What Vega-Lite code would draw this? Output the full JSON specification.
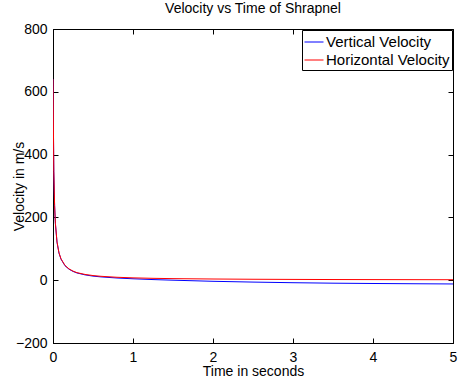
{
  "$schema": "https://vega.github.io/schema/vega-lite/v6.json",
  "width": 400,
  "height": 314,
  "autosize": "none",
  "padding": {"left": 53, "top": 29, "right": 5, "bottom": 36},
  "background": "white",
  "config": {
    "font": "Liberation Sans",
    "view": {"stroke": "black", "strokeWidth": 1},
    "axis": {
      "grid": false,
      "domainColor": "black",
      "tickColor": "black",
      "labelColor": "black",
      "titleColor": "black",
      "labelFontSize": 14,
      "titleFontSize": 14,
      "titleFontWeight": "normal",
      "labelFont": "Liberation Sans",
      "titleFont": "Liberation Sans",
      "tickSize": -5
    }
  },
  "title": {
    "text": "Velocity vs Time of Shrapnel",
    "fontSize": 14,
    "fontWeight": "normal",
    "font": "Liberation Sans",
    "color": "black",
    "offset": 6
  },
  "data": {
    "values": [
      {"t": 0, "v": 640, "series": "Vertical Velocity"},
      {"t": 0.01, "v": 346, "series": "Vertical Velocity"},
      {"t": 0.02, "v": 237, "series": "Vertical Velocity"},
      {"t": 0.03, "v": 180, "series": "Vertical Velocity"},
      {"t": 0.05, "v": 121, "series": "Vertical Velocity"},
      {"t": 0.075, "v": 86, "series": "Vertical Velocity"},
      {"t": 0.1, "v": 67, "series": "Vertical Velocity"},
      {"t": 0.15, "v": 46, "series": "Vertical Velocity"},
      {"t": 0.2, "v": 35, "series": "Vertical Velocity"},
      {"t": 0.25, "v": 28, "series": "Vertical Velocity"},
      {"t": 0.3, "v": 23, "series": "Vertical Velocity"},
      {"t": 0.4, "v": 17, "series": "Vertical Velocity"},
      {"t": 0.5, "v": 13, "series": "Vertical Velocity"},
      {"t": 0.6, "v": 10.5, "series": "Vertical Velocity"},
      {"t": 0.8, "v": 7, "series": "Vertical Velocity"},
      {"t": 1, "v": 4.5, "series": "Vertical Velocity"},
      {"t": 1.25, "v": 2, "series": "Vertical Velocity"},
      {"t": 1.5, "v": 0, "series": "Vertical Velocity"},
      {"t": 2, "v": -3.5, "series": "Vertical Velocity"},
      {"t": 2.5, "v": -6, "series": "Vertical Velocity"},
      {"t": 3, "v": -8, "series": "Vertical Velocity"},
      {"t": 3.5, "v": -9.5, "series": "Vertical Velocity"},
      {"t": 4, "v": -10.5, "series": "Vertical Velocity"},
      {"t": 4.5, "v": -11.3, "series": "Vertical Velocity"},
      {"t": 5, "v": -12, "series": "Vertical Velocity"},
      {"t": 0, "v": 640, "series": "Horizontal Velocity"},
      {"t": 0.01, "v": 347, "series": "Horizontal Velocity"},
      {"t": 0.02, "v": 238, "series": "Horizontal Velocity"},
      {"t": 0.03, "v": 181, "series": "Horizontal Velocity"},
      {"t": 0.05, "v": 122, "series": "Horizontal Velocity"},
      {"t": 0.075, "v": 87, "series": "Horizontal Velocity"},
      {"t": 0.1, "v": 68, "series": "Horizontal Velocity"},
      {"t": 0.15, "v": 47, "series": "Horizontal Velocity"},
      {"t": 0.2, "v": 36, "series": "Horizontal Velocity"},
      {"t": 0.25, "v": 29, "series": "Horizontal Velocity"},
      {"t": 0.3, "v": 24, "series": "Horizontal Velocity"},
      {"t": 0.4, "v": 18.4, "series": "Horizontal Velocity"},
      {"t": 0.5, "v": 14.8, "series": "Horizontal Velocity"},
      {"t": 0.6, "v": 12.4, "series": "Horizontal Velocity"},
      {"t": 0.8, "v": 9.3, "series": "Horizontal Velocity"},
      {"t": 1, "v": 7.5, "series": "Horizontal Velocity"},
      {"t": 1.25, "v": 6, "series": "Horizontal Velocity"},
      {"t": 1.5, "v": 5, "series": "Horizontal Velocity"},
      {"t": 2, "v": 3.8, "series": "Horizontal Velocity"},
      {"t": 2.5, "v": 3, "series": "Horizontal Velocity"},
      {"t": 3, "v": 2.5, "series": "Horizontal Velocity"},
      {"t": 3.5, "v": 2.1, "series": "Horizontal Velocity"},
      {"t": 4, "v": 1.9, "series": "Horizontal Velocity"},
      {"t": 4.5, "v": 1.7, "series": "Horizontal Velocity"},
      {"t": 5, "v": 1.5, "series": "Horizontal Velocity"}
    ]
  },
  "layer": [
    {
      "mark": {"type": "line", "strokeWidth": 1, "clip": true},
      "encoding": {
        "x": {
          "field": "t", "type": "quantitative",
          "scale": {"domain": [0, 5], "nice": false, "zero": false},
          "axis": {"title": "Time in seconds", "values": [0, 1, 2, 3, 4, 5], "labelPadding": 12, "titlePadding": 0, "labelFlush": false}
        },
        "y": {
          "field": "v", "type": "quantitative",
          "scale": {"domain": [-200, 800], "nice": false},
          "axis": {"title": "Velocity in m/s", "values": [-200, 0, 200, 400, 600, 800], "labelPadding": 11, "titlePadding": -11, "labelFlush": false}
        },
        "color": {
          "field": "series", "type": "nominal",
          "scale": {"domain": ["Vertical Velocity", "Horizontal Velocity"], "range": ["#0000ff", "#ff0000"]},
          "legend": {
            "title": null,
            "orient": "top-right",
            "offset": 1,
            "strokeColor": "black",
            "fillColor": "white",
            "padding": 2,
            "rowPadding": -2,
            "labelFontSize": 15,
            "labelFont": "Liberation Sans",
            "labelColor": "black",
            "labelOffset": 2,
            "symbolSize": 361,
            "symbolStrokeWidth": 1,
            "cornerRadius": 0
          }
        },
        "order": {"field": "t", "type": "quantitative"}
      }
    },
    {
      "mark": {"type": "line", "opacity": 0},
      "encoding": {
        "x": {"field": "t", "type": "quantitative", "axis": {"orient": "top", "labels": false, "title": null, "values": [0, 1, 2, 3, 4, 5], "domain": false}},
        "y": {"field": "v", "type": "quantitative", "axis": {"orient": "right", "labels": false, "title": null, "values": [-200, 0, 200, 400, 600, 800], "domain": false}},
        "detail": {"field": "series"}
      }
    }
  ],
  "resolve": {"axis": {"x": "independent", "y": "independent"}}
}
